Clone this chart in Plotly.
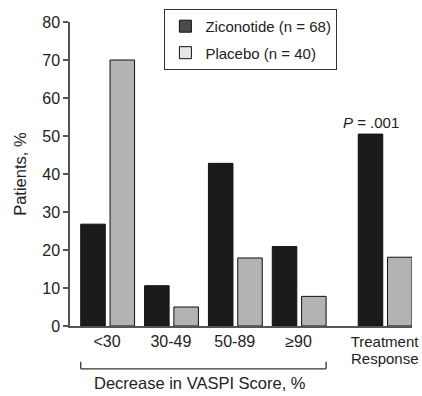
import plotly.graph_objects as go

categories = ["<30", "30-49", "50-89", "≥90", "Treatment"]
cat_pos = [0, 1, 2, 3, 4.346]
zico = [26.8, 10.6, 42.8, 20.9, 50.5]
placebo = [70.0, 5.0, 17.9, 7.8, 18.1]
yticks = [0, 10, 20, 30, 40, 50, 60, 70, 80]

FONT = "Liberation Sans"
TXT = "#222222"
BAR_W = 0.384
OFF_Z = -0.412
OFF_P = 0.047

ticktext = [c if c != "Treatment" else '<span style="font-size:15px">Treatment</span>'
            for c in categories]

fig = go.Figure()
fig.add_trace(go.Bar(x=cat_pos, y=zico, width=BAR_W, offset=OFF_Z,
                     marker=dict(color="#1b1b1b", line=dict(color="#111111", width=1)),
                     showlegend=False, name="Ziconotide (n = 68)"))
fig.add_trace(go.Bar(x=cat_pos, y=placebo, width=BAR_W, offset=OFF_P,
                     marker=dict(color="#b3b3b3", line=dict(color="#111111", width=1)),
                     showlegend=False, name="Placebo (n = 40)"))
# legend-only entries (swatch colours as in reference)
fig.add_trace(go.Bar(x=[None], y=[None], name="Ziconotide (n = 68)", legendgroup="z",
                     marker=dict(color="#4a4a4a", line=dict(color="#111111", width=1))))
fig.add_trace(go.Bar(x=[None], y=[None], name="Placebo (n = 40)", legendgroup="p",
                     marker=dict(color="#e6e6e6", line=dict(color="#111111", width=1))))

# P value annotation above treatment response ziconotide bar
fig.add_annotation(x=cat_pos[4] + OFF_Z + BAR_W / 2, y=zico[4], xref="x", yref="y",
                   text="<i>P</i> = .001", showarrow=False, yanchor="bottom", yshift=1,
                   font=dict(family=FONT, size=15, color=TXT))
# second line of Treatment Response label
fig.add_annotation(x=cat_pos[4], y=-0.074, xref="x", yref="paper", text="Response",
                   showarrow=False, yanchor="top", font=dict(family=FONT, size=15, color=TXT))
# y-axis title
fig.add_annotation(x=-0.1466, y=0.5, xref="paper", yref="paper", text="Patients, %",
                   textangle=-90, showarrow=False, xanchor="center", yanchor="middle",
                   font=dict(family=FONT, size=16.5, color=TXT))
# bracket
x0 = cat_pos[0] + OFF_Z
x1 = cat_pos[3] + OFF_P + BAR_W
yb_top, yb_bot = -0.118, -0.141
for xx in (x0, x1):
    fig.add_shape(type="line", xref="x", yref="paper", x0=xx, x1=xx, y0=yb_top, y1=yb_bot,
                  line=dict(color="#333333", width=1.3))
fig.add_shape(type="line", xref="x", yref="paper", x0=x0, x1=x1, y0=yb_bot, y1=yb_bot,
              line=dict(color="#333333", width=1.3))
fig.add_annotation(x=(x0 + x1) / 2 - 0.05, y=-0.1865, xref="x", yref="paper",
                   text="Decrease in VASPI Score, %", showarrow=False, yanchor="middle",
                   font=dict(family=FONT, size=16.5, color=TXT))

fig.update_layout(
    width=422, height=396,
    margin=dict(l=70, r=10, t=22, b=70, autoexpand=False),
    paper_bgcolor="white", plot_bgcolor="white",
    barmode="overlay",
    font=dict(family=FONT, size=16, color=TXT),
    legend=dict(x=0.276, y=1.043, xanchor="left", yanchor="top",
                bordercolor="#333333", borderwidth=1, bgcolor="white",
                tracegroupgap=4,
                font=dict(family=FONT, size=15, color=TXT), traceorder="grouped"),
)
fig.update_xaxes(range=[-0.58, 4.776], tickvals=cat_pos, ticktext=ticktext,
                 automargin=False,
                 showgrid=False, zeroline=False, showline=True, linecolor="#555555",
                 linewidth=1.5, ticks="", tickfont=dict(family=FONT, size=16, color=TXT))
fig.update_yaxes(range=[0, 80], tickvals=yticks, showgrid=False, zeroline=False,
                 automargin=False,
                 showline=True, linecolor="#555555", linewidth=1.5, ticks="outside",
                 ticklen=5, tickcolor="#555555", tickwidth=1.5,
                 tickfont=dict(family=FONT, size=16, color=TXT))

fig.write_html("out.html", config={"displayModeBar": False},
               post_script="document.body.style.margin='0';")
